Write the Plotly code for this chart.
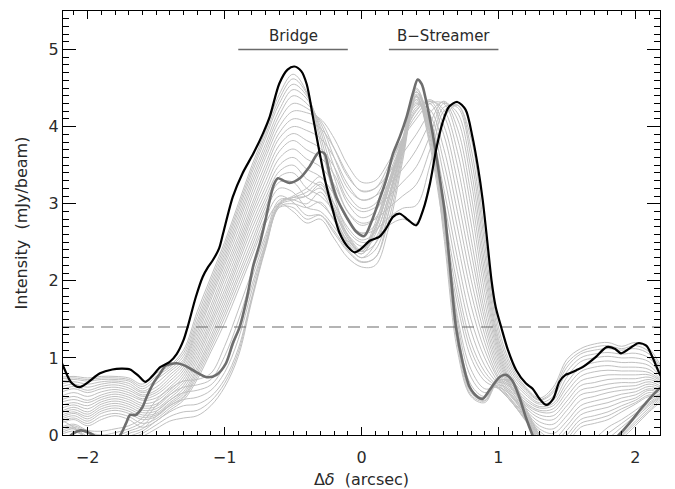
import plotly.graph_objects as go

# Position offset along the cut (arcsec)
grid_x = [round(-2.2 + 0.1 * i, 1) for i in range(45)]

# Family of intermediate intensity profiles (mJy/beam), sampled on grid_x
gray_profiles = [
    [0.75, 0.76, 0.74, 0.76, 0.76, 0.74, 0.66, 0.80, 0.90, 1.10, 1.60, 2.05, 2.50, 3.00, 3.50, 3.95, 4.42, 4.68, 4.45, 3.80, 3.10, 2.65, 2.50, 2.55, 2.72, 2.80, 2.75, 3.30, 4.10, 4.28, 3.85, 2.60, 1.40, 0.88, 0.62, 0.48, 0.62, 0.98, 1.12, 1.18, 1.20, 1.15, 1.20, 1.12, 0.85],
    [0.73, 0.74, 0.72, 0.74, 0.74, 0.72, 0.63, 0.76, 0.88, 1.06, 1.54, 2.00, 2.45, 2.95, 3.45, 3.90, 4.36, 4.62, 4.43, 3.88, 3.22, 2.78, 2.62, 2.66, 2.82, 2.94, 2.98, 3.50, 4.20, 4.28, 3.72, 2.48, 1.32, 0.84, 0.60, 0.46, 0.58, 0.93, 1.08, 1.14, 1.16, 1.12, 1.16, 1.08, 0.82],
    [0.70, 0.72, 0.70, 0.72, 0.72, 0.70, 0.60, 0.72, 0.85, 1.02, 1.48, 1.95, 2.40, 2.90, 3.40, 3.85, 4.30, 4.55, 4.40, 3.95, 3.35, 2.90, 2.75, 2.80, 2.95, 3.10, 3.25, 3.70, 4.25, 4.25, 3.60, 2.35, 1.25, 0.80, 0.58, 0.45, 0.55, 0.88, 1.05, 1.10, 1.12, 1.10, 1.12, 1.05, 0.80],
    [0.66, 0.69, 0.66, 0.69, 0.70, 0.67, 0.57, 0.67, 0.82, 0.98, 1.43, 1.90, 2.35, 2.84, 3.34, 3.78, 4.22, 4.48, 4.36, 4.00, 3.48, 3.05, 2.90, 2.95, 3.10, 3.28, 3.48, 3.88, 4.30, 4.18, 3.45, 2.22, 1.20, 0.76, 0.55, 0.42, 0.50, 0.82, 1.00, 1.05, 1.07, 1.05, 1.06, 1.00, 0.78],
    [0.62, 0.66, 0.62, 0.66, 0.68, 0.64, 0.55, 0.62, 0.78, 0.95, 1.38, 1.85, 2.30, 2.78, 3.28, 3.72, 4.15, 4.40, 4.30, 4.05, 3.60, 3.20, 3.05, 3.10, 3.25, 3.45, 3.70, 4.05, 4.33, 4.10, 3.30, 2.10, 1.15, 0.72, 0.52, 0.40, 0.45, 0.75, 0.95, 1.00, 1.02, 1.00, 1.00, 0.95, 0.75],
    [0.58, 0.63, 0.58, 0.63, 0.65, 0.61, 0.52, 0.58, 0.74, 0.92, 1.33, 1.80, 2.25, 2.72, 3.22, 3.66, 4.08, 4.30, 4.24, 4.08, 3.72, 3.35, 3.17, 3.20, 3.40, 3.65, 3.90, 4.18, 4.32, 3.98, 3.12, 1.98, 1.10, 0.68, 0.48, 0.37, 0.41, 0.68, 0.88, 0.94, 0.96, 0.94, 0.94, 0.90, 0.72],
    [0.55, 0.60, 0.55, 0.60, 0.62, 0.58, 0.50, 0.55, 0.70, 0.88, 1.28, 1.75, 2.20, 2.65, 3.15, 3.60, 4.00, 4.20, 4.18, 4.10, 3.85, 3.50, 3.28, 3.30, 3.55, 3.85, 4.10, 4.30, 4.30, 3.85, 2.95, 1.85, 1.05, 0.65, 0.45, 0.35, 0.38, 0.62, 0.82, 0.88, 0.90, 0.88, 0.88, 0.85, 0.70],
    [0.50, 0.55, 0.50, 0.56, 0.59, 0.55, 0.47, 0.52, 0.66, 0.84, 1.23, 1.68, 2.14, 2.58, 3.08, 3.52, 3.92, 4.10, 4.06, 3.98, 3.72, 3.38, 3.16, 3.20, 3.50, 3.85, 4.15, 4.33, 4.22, 3.68, 2.75, 1.72, 1.00, 0.62, 0.42, 0.32, 0.34, 0.56, 0.76, 0.82, 0.84, 0.83, 0.83, 0.81, 0.69],
    [0.45, 0.50, 0.45, 0.52, 0.56, 0.52, 0.45, 0.48, 0.62, 0.80, 1.18, 1.62, 2.08, 2.52, 3.00, 3.45, 3.85, 4.00, 3.95, 3.85, 3.60, 3.25, 3.05, 3.10, 3.45, 3.85, 4.20, 4.35, 4.15, 3.50, 2.55, 1.60, 0.95, 0.60, 0.40, 0.30, 0.30, 0.50, 0.70, 0.75, 0.78, 0.78, 0.78, 0.78, 0.68],
    [0.42, 0.46, 0.42, 0.49, 0.53, 0.49, 0.41, 0.44, 0.58, 0.76, 1.13, 1.56, 2.02, 2.46, 2.94, 3.38, 3.76, 3.91, 3.82, 3.72, 3.48, 3.12, 2.94, 3.00, 3.38, 3.82, 4.22, 4.33, 4.02, 3.30, 2.38, 1.50, 0.90, 0.58, 0.38, 0.26, 0.25, 0.44, 0.64, 0.68, 0.72, 0.73, 0.73, 0.75, 0.66],
    [0.38, 0.42, 0.38, 0.46, 0.50, 0.46, 0.38, 0.40, 0.55, 0.72, 1.08, 1.50, 1.95, 2.40, 2.88, 3.30, 3.68, 3.82, 3.70, 3.60, 3.38, 3.00, 2.82, 2.90, 3.30, 3.80, 4.25, 4.30, 3.90, 3.10, 2.20, 1.40, 0.85, 0.55, 0.35, 0.22, 0.20, 0.38, 0.58, 0.62, 0.66, 0.68, 0.68, 0.72, 0.65],
    [0.34, 0.39, 0.34, 0.43, 0.47, 0.43, 0.35, 0.37, 0.52, 0.68, 1.03, 1.45, 1.88, 2.34, 2.82, 3.22, 3.59, 3.71, 3.58, 3.48, 3.25, 2.89, 2.72, 2.81, 3.25, 3.80, 4.28, 4.22, 3.72, 2.90, 2.02, 1.30, 0.80, 0.52, 0.32, 0.17, 0.14, 0.32, 0.52, 0.56, 0.60, 0.63, 0.64, 0.69, 0.62],
    [0.30, 0.36, 0.30, 0.40, 0.44, 0.40, 0.32, 0.34, 0.48, 0.64, 0.98, 1.40, 1.82, 2.28, 2.75, 3.15, 3.50, 3.60, 3.45, 3.35, 3.12, 2.78, 2.62, 2.72, 3.20, 3.80, 4.30, 4.15, 3.55, 2.70, 1.85, 1.20, 0.75, 0.50, 0.30, 0.12, 0.08, 0.25, 0.45, 0.50, 0.55, 0.58, 0.60, 0.66, 0.60],
    [0.28, 0.33, 0.27, 0.37, 0.41, 0.37, 0.29, 0.31, 0.45, 0.60, 0.93, 1.34, 1.76, 2.22, 2.68, 3.08, 3.42, 3.50, 3.32, 3.22, 3.00, 2.69, 2.53, 2.63, 3.12, 3.78, 4.32, 4.08, 3.38, 2.50, 1.68, 1.10, 0.72, 0.48, 0.28, 0.08, 0.02, 0.18, 0.38, 0.44, 0.48, 0.53, 0.56, 0.63, 0.58],
    [0.25, 0.30, 0.24, 0.34, 0.38, 0.34, 0.26, 0.28, 0.42, 0.56, 0.88, 1.28, 1.70, 2.15, 2.60, 3.02, 3.35, 3.40, 3.20, 3.10, 2.90, 2.60, 2.45, 2.55, 3.05, 3.75, 4.35, 4.00, 3.20, 2.30, 1.50, 1.00, 0.68, 0.45, 0.25, 0.05, -0.05, 0.12, 0.32, 0.38, 0.42, 0.48, 0.52, 0.60, 0.55],
    [0.22, 0.28, 0.21, 0.31, 0.35, 0.31, 0.23, 0.26, 0.40, 0.53, 0.84, 1.23, 1.64, 2.08, 2.52, 2.96, 3.28, 3.28, 3.08, 3.00, 2.80, 2.52, 2.38, 2.48, 2.98, 3.70, 4.38, 3.92, 3.05, 2.12, 1.35, 0.90, 0.65, 0.44, 0.22, 0.02, -0.10, 0.06, 0.26, 0.32, 0.36, 0.43, 0.48, 0.58, 0.52],
    [0.20, 0.25, 0.18, 0.28, 0.32, 0.28, 0.20, 0.24, 0.38, 0.50, 0.80, 1.18, 1.58, 2.02, 2.45, 2.90, 3.20, 3.15, 2.95, 2.90, 2.70, 2.45, 2.30, 2.40, 2.90, 3.65, 4.40, 3.85, 2.90, 1.95, 1.20, 0.82, 0.62, 0.42, 0.20, 0.00, -0.15, 0.00, 0.20, 0.25, 0.30, 0.38, 0.45, 0.55, 0.50],
    [0.18, 0.22, 0.15, 0.24, 0.28, 0.24, 0.15, 0.21, 0.35, 0.48, 0.76, 1.13, 1.52, 1.95, 2.38, 2.82, 3.10, 3.02, 2.85, 2.85, 2.62, 2.38, 2.24, 2.30, 2.80, 3.60, 4.40, 3.80, 2.80, 1.82, 1.10, 0.76, 0.61, 0.42, 0.19, -0.02, -0.18, -0.05, 0.15, 0.20, 0.25, 0.34, 0.42, 0.52, 0.49],
    [0.15, 0.20, 0.12, 0.20, 0.25, 0.20, 0.10, 0.18, 0.32, 0.45, 0.72, 1.08, 1.45, 1.88, 2.32, 2.75, 3.00, 2.90, 2.75, 2.80, 2.55, 2.30, 2.18, 2.20, 2.70, 3.55, 4.40, 3.75, 2.70, 1.70, 1.00, 0.70, 0.60, 0.42, 0.18, -0.05, -0.20, -0.10, 0.10, 0.15, 0.20, 0.30, 0.40, 0.50, 0.48],
    [0.10, 0.14, 0.06, 0.05, 0.08, 0.12, 0.22, 0.45, 0.60, 0.70, 0.72, 0.80, 1.15, 1.62, 2.12, 2.60, 3.05, 3.05, 3.00, 3.15, 2.85, 2.50, 2.35, 2.60, 3.10, 3.75, 4.45, 3.95, 2.85, 1.55, 0.85, 0.60, 0.62, 0.50, 0.20, -0.10, -0.20, -0.20, -0.15, -0.05, 0.10, 0.20, 0.32, 0.45, 0.55],
    [0.08, 0.12, 0.04, 0.00, 0.03, 0.08, 0.17, 0.38, 0.52, 0.62, 0.65, 0.72, 1.02, 1.48, 2.04, 2.55, 3.02, 3.08, 3.10, 3.25, 2.92, 2.55, 2.38, 2.68, 3.20, 3.80, 4.45, 4.00, 2.90, 1.48, 0.75, 0.55, 0.65, 0.55, 0.22, -0.10, -0.25, -0.25, -0.22, -0.12, 0.02, 0.15, 0.28, 0.42, 0.54],
    [0.05, 0.10, 0.02, -0.05, -0.02, 0.05, 0.12, 0.30, 0.45, 0.55, 0.58, 0.65, 0.90, 1.35, 1.95, 2.50, 3.00, 3.10, 3.20, 3.35, 3.00, 2.60, 2.40, 2.75, 3.30, 3.85, 4.45, 4.05, 2.95, 1.40, 0.65, 0.50, 0.68, 0.60, 0.25, -0.10, -0.30, -0.30, -0.30, -0.20, -0.05, 0.10, 0.25, 0.40, 0.52],
    [0.02, 0.08, -0.02, -0.08, -0.06, 0.02, 0.08, 0.24, 0.38, 0.46, 0.49, 0.58, 0.81, 1.24, 1.88, 2.48, 2.99, 3.08, 3.15, 3.28, 2.95, 2.58, 2.38, 2.70, 3.25, 3.82, 4.48, 4.02, 2.88, 1.32, 0.60, 0.48, 0.70, 0.62, 0.28, -0.08, -0.30, -0.32, -0.32, -0.25, -0.10, 0.05, 0.22, 0.38, 0.51],
    [0.00, 0.05, -0.05, -0.10, -0.10, -0.02, 0.05, 0.18, 0.30, 0.38, 0.40, 0.50, 0.72, 1.12, 1.80, 2.45, 2.98, 3.05, 3.10, 3.20, 2.90, 2.55, 2.35, 2.65, 3.20, 3.80, 4.50, 4.00, 2.80, 1.25, 0.55, 0.45, 0.72, 0.65, 0.30, -0.05, -0.30, -0.35, -0.35, -0.30, -0.15, 0.00, 0.18, 0.35, 0.50],
    [0.10, 0.08, -0.05, -0.12, -0.12, -0.06, 0.02, 0.13, 0.24, 0.30, 0.32, 0.44, 0.67, 1.07, 1.78, 2.44, 2.96, 3.00, 2.95, 3.02, 2.78, 2.48, 2.30, 2.48, 3.05, 3.72, 4.42, 3.95, 2.70, 1.18, 0.52, 0.44, 0.71, 0.68, 0.32, -0.02, -0.28, -0.35, -0.38, -0.32, -0.18, -0.02, 0.15, 0.32, 0.48],
    [0.20, 0.10, -0.05, -0.15, -0.15, -0.10, -0.02, 0.08, 0.18, 0.22, 0.25, 0.38, 0.62, 1.02, 1.75, 2.42, 2.95, 2.95, 2.80, 2.85, 2.65, 2.40, 2.25, 2.30, 2.90, 3.65, 4.35, 3.90, 2.60, 1.10, 0.50, 0.42, 0.70, 0.70, 0.35, 0.00, -0.25, -0.35, -0.40, -0.35, -0.20, -0.05, 0.12, 0.30, 0.45],
]

# Highlighted profile (black)
black_x = [-2.2, -2.18, -2.12, -2.06, -2.0, -1.91, -1.82, -1.75, -1.69, -1.63, -1.58, -1.53, -1.47, -1.40,
           -1.35, -1.30, -1.27, -1.21, -1.16, -1.12, -1.085, -1.04, -1.01, -0.94, -0.87, -0.79, -0.72,
           -0.67, -0.60, -0.54, -0.49, -0.44, -0.40, -0.355, -0.31, -0.26, -0.21, -0.16, -0.10, -0.05,
           0.0, 0.06, 0.13, 0.18, 0.23, 0.28, 0.34, 0.40, 0.45, 0.50, 0.545, 0.59, 0.64, 0.70, 0.76,
           0.81, 0.85, 0.885, 0.92, 0.95, 0.98, 1.02, 1.07, 1.13, 1.20, 1.25, 1.30, 1.35, 1.40, 1.445,
           1.49, 1.52, 1.57, 1.615, 1.71, 1.79, 1.85, 1.895, 1.956, 2.02, 2.08, 2.13, 2.17, 2.2]
black_y = [0.98, 0.90, 0.68, 0.62, 0.68, 0.80, 0.85, 0.86, 0.85, 0.77, 0.69, 0.76, 0.88, 0.95,
           1.05, 1.23, 1.40, 1.79, 2.05, 2.18, 2.27, 2.42, 2.62, 3.09, 3.39, 3.65, 3.91,
           4.13, 4.56, 4.74, 4.78, 4.72, 4.55, 4.13, 3.70, 3.26, 2.92, 2.62, 2.44, 2.37,
           2.42, 2.52, 2.57, 2.68, 2.83, 2.87, 2.79, 2.72, 2.92, 3.26, 3.70, 4.04, 4.26, 4.32, 4.22,
           3.87, 3.48, 3.05, 2.49, 2.00, 1.66, 1.40, 1.10, 0.84, 0.67, 0.60, 0.47, 0.39, 0.47, 0.69,
           0.78, 0.80, 0.84, 0.88, 1.01, 1.14, 1.12, 1.06, 1.12, 1.19, 1.16, 0.99, 0.82, 0.72]

# Highlighted profile (dark gray)
dark_x = [-2.2, -2.12, -2.05, -1.99, -1.94, -1.86, -1.77, -1.72, -1.69, -1.65, -1.60, -1.57, -1.52,
          -1.47, -1.43, -1.35, -1.29, -1.23, -1.13, -1.06, -0.99, -0.94, -0.89, -0.84, -0.79, -0.74,
          -0.70, -0.67, -0.64, -0.61, -0.57, -0.525, -0.45, -0.38, -0.31, -0.27, -0.234, -0.185,
          -0.11, -0.04, 0.02, 0.08, 0.13, 0.18, 0.23, 0.28, 0.33, 0.375, 0.41, 0.44, 0.47, 0.52,
          0.57, 0.606, 0.63, 0.655, 0.69, 0.74, 0.79, 0.85, 0.885, 0.934, 1.007, 1.056, 1.10,
          1.153, 1.20, 1.24, 1.30, 1.50, 1.70, 1.88, 1.956, 2.05, 2.15, 2.2]
dark_y = [-0.20, 0.00, 0.06, 0.03, -0.02, -0.12, -0.02, 0.15, 0.26, 0.26, 0.36, 0.49, 0.67,
          0.80, 0.90, 0.93, 0.90, 0.84, 0.75, 0.78, 0.93, 1.19, 1.40, 1.75, 2.20, 2.50,
          2.80, 3.05, 3.25, 3.33, 3.30, 3.27, 3.33, 3.48, 3.67, 3.65, 3.39, 3.09,
          2.83, 2.64, 2.58, 2.80, 3.05, 3.31, 3.65, 3.87, 4.13, 4.43, 4.61, 4.55, 4.35, 3.91,
          3.35, 2.92, 2.49, 2.01, 1.40, 0.93, 0.62, 0.49, 0.47, 0.58, 0.75, 0.78, 0.71,
          0.49, 0.23, 0.04, -0.20, -0.40, -0.30, 0.00, 0.15, 0.36, 0.56, 0.64]

threshold = 1.4
region_names = ["Bridge", "B\u2212Streamer"]
region_start = [-0.9, 0.2]
region_end = [-0.1, 1.0]
region_level = 5.0

x_range = [-2.18, 2.18]
y_range = [0.0, 5.5]

FONT = "DejaVu Sans"
TXT = "#2a2a2a"

fig = go.Figure()

for prof in gray_profiles:
    fig.add_trace(go.Scatter(x=grid_x, y=prof, mode="lines",
                             line=dict(color="#c0c0c0", width=1.0, shape="spline", smoothing=1.0),
                             hoverinfo="skip", showlegend=False))

fig.add_trace(go.Scatter(x=x_range, y=[threshold, threshold], mode="lines",
                         line=dict(color="#6a6a6a", width=1.1, dash="12px,7px"),
                         showlegend=False))

fig.add_trace(go.Scatter(x=dark_x, y=dark_y, mode="lines",
                         line=dict(color="#6e6e6e", width=2.6, shape="spline", smoothing=0.8),
                         showlegend=False))
fig.add_trace(go.Scatter(x=black_x, y=black_y, mode="lines",
                         line=dict(color="#000000", width=2.2, shape="spline", smoothing=0.8),
                         showlegend=False))

for name, x0, x1 in zip(region_names, region_start, region_end):
    fig.add_trace(go.Scatter(x=[x0, x1], y=[region_level, region_level], mode="lines",
                             line=dict(color="#6a6a6a", width=1.6), showlegend=False))
    fig.add_annotation(x=(x0 + x1) / 2, y=region_level, text=name, showarrow=False,
                       yanchor="bottom", yshift=3,
                       font=dict(family=FONT, size=15, color=TXT))

axis_common = dict(
    showgrid=False, zeroline=False, showline=True, linecolor="#000000", linewidth=1.2,
    mirror="allticks", ticks="inside", tickcolor="#000000", tickwidth=1, automargin=False,
    tickfont=dict(family=FONT, size=16, color=TXT),
)

fig.update_xaxes(range=x_range, tick0=0, dtick=1, ticklen=8, ticklabelstandoff=8,
                 minor=dict(tick0=0, dtick=0.1, ticklen=4, tickwidth=1, ticks="inside",
                            tickcolor="#000000", showgrid=False),
                 title=dict(text="\u0394<i>\u03b4</i>  (arcsec)", font=dict(family=FONT, size=16, color=TXT),
                            standoff=10),
                 **axis_common)
fig.update_yaxes(range=y_range, tick0=0, dtick=1, ticklen=13,
                 minor=dict(tick0=0, dtick=0.1, ticklen=6, tickwidth=1, ticks="inside",
                            tickcolor="#000000", showgrid=False),
                 title=dict(text="Intensity  (mJy/beam)", font=dict(family=FONT, size=16, color=TXT),
                            standoff=16),
                 **axis_common)

fig.update_layout(width=675, height=489, margin=dict(l=63, r=15, t=11, b=54),
                  plot_bgcolor="white", paper_bgcolor="white")

fig.write_html("out.html")
